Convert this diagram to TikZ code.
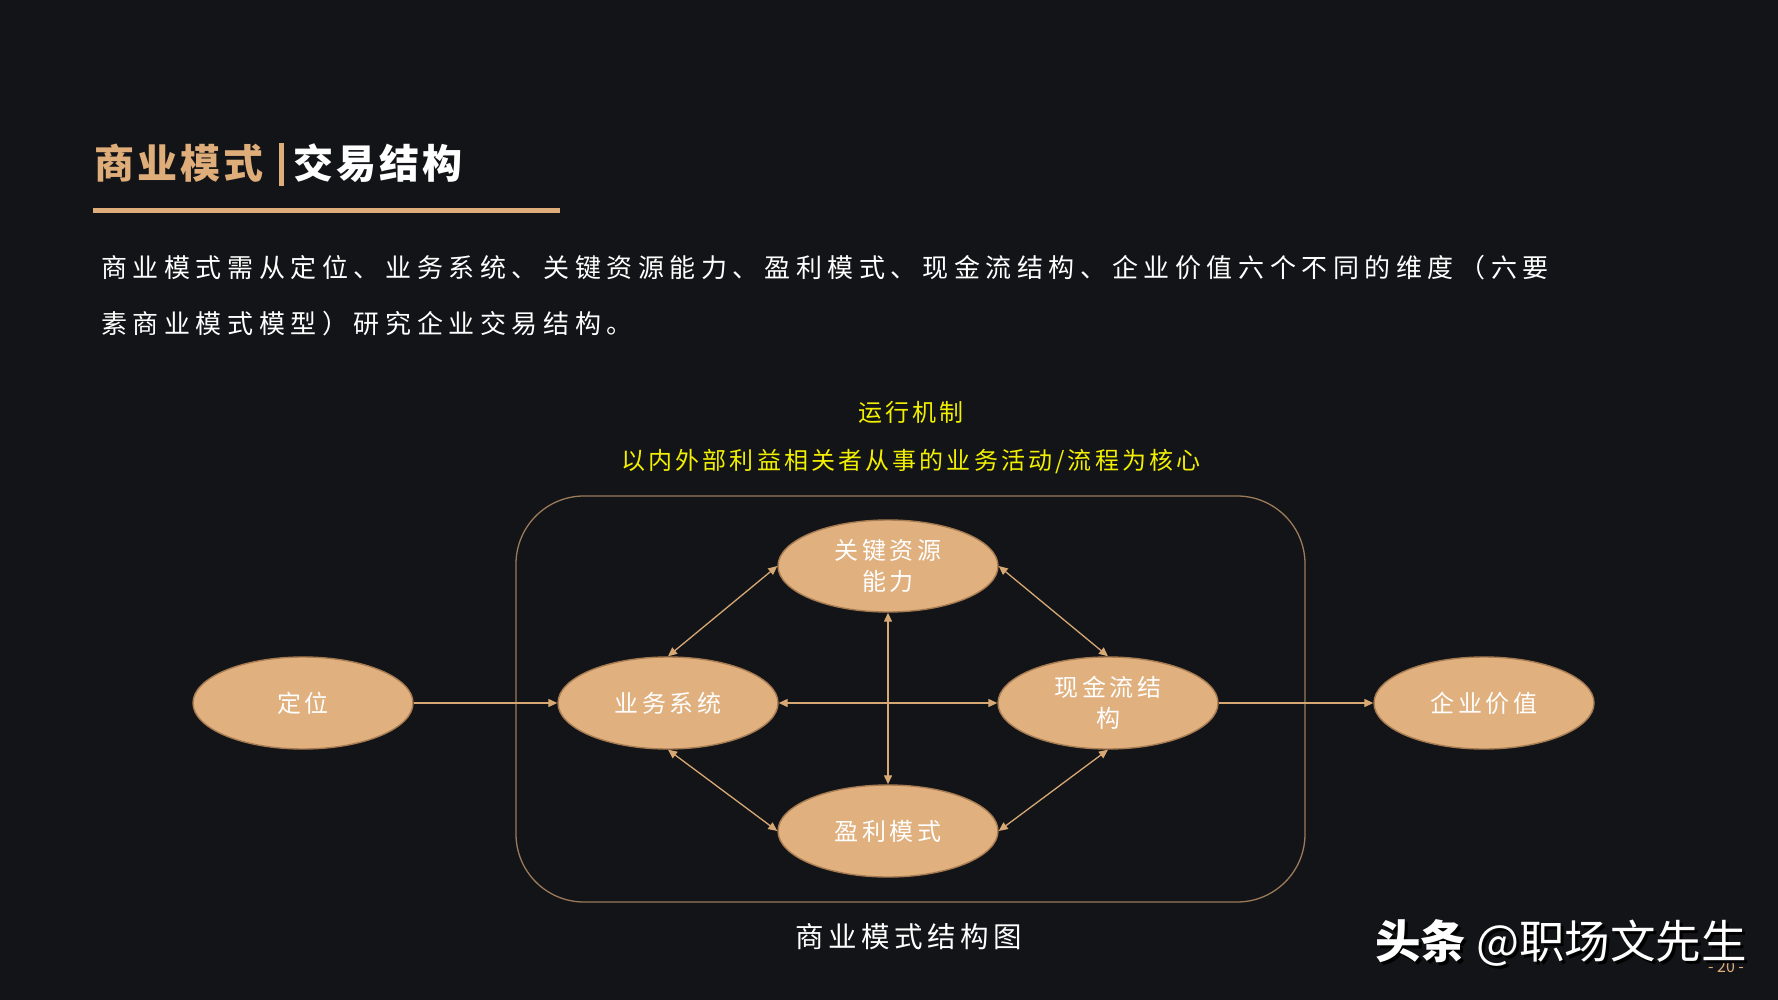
\documentclass[tikz,border=0pt]{standalone}
\usepackage{fontspec}
\usetikzlibrary{shapes.geometric,arrows.meta}
\newfontfamily\cjk{Noto Sans CJK SC}
\newcommand\trk[1]{\addfontfeatures{LetterSpace=#1}}
\definecolor{bgc}{HTML}{131417}
\definecolor{tanT}{HTML}{DEAD7A}
\definecolor{tanfill}{HTML}{E0B07E}
\definecolor{ellEdge}{HTML}{A87C52}
\definecolor{rectc}{HTML}{9A7A5A}
\definecolor{arrowc}{HTML}{D8A874}
\definecolor{ylw}{HTML}{F2F000}
\begin{document}
\begin{tikzpicture}[x=1pt,y=-1pt,
  ell/.style={ellipse, draw=ellEdge, line width=1.4pt, fill=tanfill,
    minimum width=220pt, minimum height=92pt, inner sep=0pt, text=white,
    font=\cjk\fontsize{24}{31}\selectfont\trk{14}, align=center},
  conn/.style={draw=arrowc, line width=1.3pt, -{Triangle[length=9pt,width=8pt]}},
  biconn/.style={draw=arrowc, line width=1.3pt, {Triangle[length=9pt,width=8pt]}-{Triangle[length=9pt,width=8pt]}},
  para/.style={anchor=west, text=white, inner sep=0pt, font=\cjk\fontsize{26}{30}\selectfont\trk{21.5}},
  ylwtxt/.style={text=ylw, inner sep=0pt, font=\cjk\fontsize{24}{26}\selectfont\trk{13}},
  titletxt/.style={anchor=west, inner sep=0pt, font=\cjk\bfseries\fontsize{40}{44}\selectfont\trk{8}}]
\useasboundingbox (0,0) rectangle (1778,1000);
\fill[bgc] (0,0) rectangle (1778,1000);
% title
\node[titletxt, text=tanT] (t1) at (94,163) {商业模式};
\fill[tanT] (279,143) rectangle (284,186);
\node[titletxt, text=white] (t2) at (293,163) {交易结构};
\fill[tanT] (93,208) rectangle (560,213);
% paragraph
\node[para] (p1) at (101,268) {商业模式需从定位、业务系统、关键资源能力、盈利模式、现金流结构、企业价值六个不同的维度（六要};
\node[para] (p2) at (101,324) {素商业模式模型）研究企业交易结构。};
% yellow headings
\node[ylwtxt] (h1) at (911,412) {运行机制};
\node[ylwtxt] (h2) at (911,462) {以内外部利益相关者从事的业务活动/流程为核心};
% frame
\draw[rectc, line width=1.3pt, rounded corners=68pt] (516,496) rectangle (1305,902);
% ellipses
\node[ell] (dw) at (303,703) {定位};
\node[ell] (yw) at (668,703) {业务系统};
\node[ell] (gj) at (888,566) {关键资源\\能力};
\node[ell] (xj) at (1108,703) {现金流结\\构};
\node[ell] (yl) at (888,831) {盈利模式};
\node[ell] (qy) at (1484,703) {企业价值};
% connectors
\draw[conn] (dw.east) -- (yw.west);
\draw[conn] (xj.east) -- (qy.west);
\draw[biconn] (yw.north) -- (gj.west);
\draw[biconn] (gj.east) -- (xj.north);
\draw[biconn] (gj.south) -- (yl.north);
\draw[biconn] (yw.east) -- (xj.west);
\draw[biconn] (yw.south) -- (yl.west);
\draw[biconn] (xj.south) -- (yl.east);
% caption
\node[text=white, inner sep=0pt, font=\cjk\fontsize{28.5}{32}\selectfont\trk{16}] (cap) at (909,937) {商业模式结构图};
% page number and watermark
\node[text=tanT, inner sep=0pt, font=\cjk\fontsize{16}{18}\selectfont] (pg) at (1726,967) {- 20 -};
\node[anchor=west, text=black, inner sep=0pt, font=\cjk\fontsize{45.5}{48}\selectfont] (wms) at (1378,946) {\textbf{头条} @职场文先生};
\node[anchor=west, text=white, inner sep=0pt, font=\cjk\fontsize{45.5}{48}\selectfont] (wm) at (1375,943) {\textbf{头条} @职场文先生};
\end{tikzpicture}
\end{document}
